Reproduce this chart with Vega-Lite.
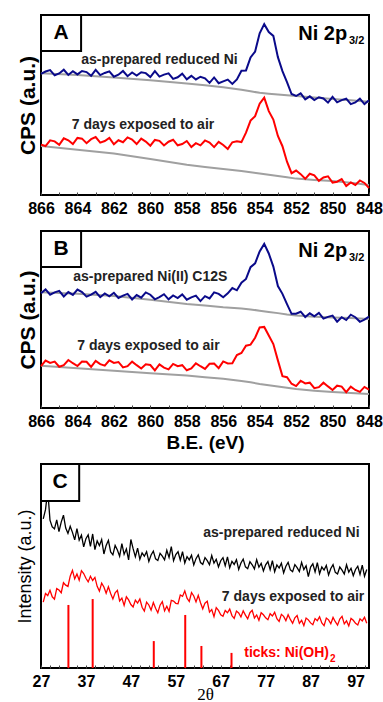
{
"$schema": "https://vega.github.io/schema/vega-lite/v6.json",
"padding": {"left": 15, "top": 13, "right": 10, "bottom": 2},
"spacing": 9,
"datasets": {
"xps": [
{"e":848,"a1":52.6,"a2":3.9,"b1":51.6,"b2":10.4},
{"e":848.25,"a1":50.5,"a2":6.7,"b1":49.9,"b2":11.9},
{"e":848.5,"a1":53.5,"a2":8.1,"b1":48.7,"b2":9.1},
{"e":848.75,"a1":51.4,"a2":5.6,"b1":51.3,"b2":10.2},
{"e":849,"a1":50.5,"a2":7.0,"b1":52.7,"b2":12.1},
{"e":849.25,"a1":53.5,"a2":5.0,"b1":49.7,"b2":9.0},
{"e":849.5,"a1":52.7,"a2":8.8,"b1":51.3,"b2":12.1},
{"e":849.75,"a1":51.5,"a2":7.4,"b1":48.8,"b2":12.6},
{"e":850,"a1":54.5,"a2":6.9,"b1":52.2,"b2":10.2},
{"e":850.25,"a1":51.3,"a2":10.4,"b1":51.5,"b2":12.2},
{"e":850.5,"a1":53.6,"a2":9.7,"b1":50.5,"b2":14.3},
{"e":850.75,"a1":54.3,"a2":7.9,"b1":53.7,"b2":11.8},
{"e":851,"a1":52.7,"a2":10.9,"b1":51.8,"b2":11.2},
{"e":851.25,"a1":54.8,"a2":11.8,"b1":53.5,"b2":14.3},
{"e":851.5,"a1":53.1,"a2":9.0,"b1":51.4,"b2":13.9},
{"e":851.75,"a1":56.5,"a2":11.6,"b1":54.4,"b2":15.4},
{"e":852,"a1":55.0,"a2":13.6,"b1":53.3,"b2":12.4},
{"e":852.25,"a1":56.1,"a2":12.1,"b1":53.2,"b2":13.7},
{"e":852.5,"a1":62.7,"a2":18.5,"b1":58.7,"b2":17.4},
{"e":852.75,"a1":68.8,"a2":27.1,"b1":64.5,"b2":18.0},
{"e":853,"a1":76.6,"a2":32.8,"b1":68.9,"b2":26.9},
{"e":853.25,"a1":88.4,"a2":41.9,"b1":79.9,"b2":36.1},
{"e":853.5,"a1":90.5,"a2":46.6,"b1":87.3,"b2":41.0},
{"e":853.75,"a1":94.9,"a2":54.1,"b1":92.7,"b2":45.8},
{"e":854,"a1":89.8,"a2":50.7,"b1":88.5,"b2":45.5},
{"e":854.25,"a1":79.7,"a2":43.8,"b1":81.7,"b2":39.7},
{"e":854.5,"a1":76.4,"a2":41.3,"b1":79.6,"b2":35.8},
{"e":854.75,"a1":69.2,"a2":34.6,"b1":72.9,"b2":35.2},
{"e":855,"a1":69.0,"a2":29.4,"b1":70.8,"b2":31.1},
{"e":855.25,"a1":64.2,"a2":29.9,"b1":66.5,"b2":29.9},
{"e":855.5,"a1":61.7,"a2":29.3,"b1":67.8,"b2":25.3},
{"e":855.75,"a1":64.1,"a2":25.6,"b1":64.8,"b2":25.2},
{"e":856,"a1":63.1,"a2":27.8,"b1":62.6,"b2":26.3},
{"e":856.25,"a1":62.1,"a2":29.5,"b1":64.5,"b2":22.5},
{"e":856.5,"a1":65.3,"a2":26.6,"b1":65.3,"b2":25.1},
{"e":856.75,"a1":62.3,"a2":29.1,"b1":61.9,"b2":25.0},
{"e":857,"a1":64.8,"a2":30.3,"b1":63.2,"b2":22.1},
{"e":857.25,"a1":65.7,"a2":27.6,"b1":60.4,"b2":23.6},
{"e":857.5,"a1":64.2,"a2":28.8,"b1":63.5,"b2":25.2},
{"e":857.75,"a1":66.2,"a2":26.6,"b1":62.5,"b2":22.3},
{"e":858,"a1":64.3,"a2":30.0,"b1":61.2,"b2":21.3},
{"e":858.25,"a1":67.4,"a2":28.3,"b1":64.2,"b2":24.2},
{"e":858.5,"a1":65.4,"a2":27.6,"b1":62.1,"b2":23.6},
{"e":858.75,"a1":64.5,"a2":30.7,"b1":63.6,"b2":24.9},
{"e":859,"a1":67.6,"a2":29.6,"b1":61.4,"b2":21.8},
{"e":859.25,"a1":66.9,"a2":27.5,"b1":64.3,"b2":22.8},
{"e":859.5,"a1":65.8,"a2":30.1,"b1":62.6,"b2":24.6},
{"e":859.75,"a1":68.8,"a2":30.6,"b1":61.4,"b2":21.3},
{"e":860,"a1":65.5,"a2":27.4,"b1":64.0,"b2":24.3},
{"e":860.25,"a1":67.7,"a2":29.7,"b1":65.3,"b2":24.7},
{"e":860.5,"a1":68.2,"a2":31.3,"b1":62.3,"b2":22.3},
{"e":860.75,"a1":66.4,"a2":28.3,"b1":63.8,"b2":24.2},
{"e":861,"a1":68.1,"a2":30.8,"b1":61.3,"b2":26.2},
{"e":861.25,"a1":66.0,"a2":32.0,"b1":64.5,"b2":23.6},
{"e":861.5,"a1":68.9,"a2":29.3,"b1":63.5,"b2":22.9},
{"e":861.75,"a1":66.8,"a2":30.4,"b1":62.2,"b2":26.0},
{"e":862,"a1":65.7,"a2":28.2,"b1":65.1,"b2":25.5},
{"e":862.25,"a1":68.7,"a2":31.7,"b1":63.1,"b2":26.9},
{"e":862.5,"a1":67.8,"a2":30.0,"b1":64.7,"b2":23.9},
{"e":862.75,"a1":66.6,"a2":29.1,"b1":62.6,"b2":24.8},
{"e":863,"a1":69.5,"a2":32.2,"b1":65.6,"b2":26.6},
{"e":863.25,"a1":66.2,"a2":31.0,"b1":64.0,"b2":23.2},
{"e":863.5,"a1":68.3,"a2":28.8,"b1":62.9,"b2":26.1},
{"e":863.75,"a1":68.9,"a2":31.3,"b1":65.5,"b2":26.3},
{"e":864,"a1":67.0,"a2":31.7,"b1":66.9,"b2":23.7},
{"e":864.25,"a1":68.8,"a2":28.3,"b1":63.9,"b2":25.3},
{"e":864.5,"a1":66.7,"a2":30.4,"b1":65.5,"b2":27.1},
{"e":864.75,"a1":69.6,"a2":31.5,"b1":63.0,"b2":24.2},
{"e":865,"a1":67.5,"a2":27.9,"b1":66.2,"b2":23.3},
{"e":865.25,"a1":66.5,"a2":29.8,"b1":65.3,"b2":26.2},
{"e":865.5,"a1":69.4,"a2":30.4,"b1":64.0,"b2":25.5},
{"e":865.75,"a1":68.6,"a2":27.2,"b1":67.0,"b2":26.8},
{"e":866,"a1":67.3,"a2":28.0,"b1":64.8,"b2":23.7}
],
"bg": [
{"e":848,"ga1":51.8,"ga2":5.6,"gb1":50.3,"gb2":7.9},
{"e":849,"ga1":52.6,"ga2":6.8,"gb1":50.8,"gb2":8.5},
{"e":850,"ga1":53.3,"ga2":7.8,"gb1":51.2,"gb2":9.1},
{"e":851,"ga1":54.2,"ga2":8.4,"gb1":51.6,"gb2":9.8},
{"e":852,"ga1":55.0,"ga2":9.1,"gb1":52.2,"gb2":10.7},
{"e":852.5,"ga1":55.4,"ga2":9.8,"gb1":52.8,"gb2":11.4},
{"e":853,"ga1":55.8,"ga2":10.5,"gb1":53.6,"gb2":12.2},
{"e":853.5,"ga1":56.3,"ga2":11.2,"gb1":54.3,"gb2":12.9},
{"e":854,"ga1":56.8,"ga2":11.9,"gb1":55.0,"gb2":13.6},
{"e":854.5,"ga1":57.6,"ga2":12.6,"gb1":55.7,"gb2":14.5},
{"e":855,"ga1":58.5,"ga2":13.3,"gb1":56.2,"gb2":15.3},
{"e":856,"ga1":59.8,"ga2":14.5,"gb1":56.9,"gb2":16.5},
{"e":857,"ga1":61.0,"ga2":15.6,"gb1":57.9,"gb2":17.4},
{"e":858,"ga1":62.0,"ga2":16.8,"gb1":58.8,"gb2":18.3},
{"e":860,"ga1":63.8,"ga2":20.0,"gb1":61.2,"gb2":19.7},
{"e":862,"ga1":65.3,"ga2":23.0,"gb1":63.3,"gb2":21.1},
{"e":864,"ga1":66.6,"ga2":25.2,"gb1":64.6,"gb2":22.5},
{"e":866,"ga1":67.6,"ga2":27.2,"gb1":65.4,"gb2":23.9}
],
"xrd": [
{"t":27.5,"k":73.1,"r":32.3},{"t":28,"k":77.6,"r":36.5},{"t":28.5,"k":87.0,"r":35.5},{"t":29,"k":72.5,"r":38.1},
{"t":29.5,"k":69.2,"r":34.9},{"t":30,"k":68.2,"r":33.7},{"t":30.5,"k":72.6,"r":38.9},{"t":31,"k":66.9,"r":38.2},
{"t":31.5,"k":71.5,"r":36.9},{"t":32,"k":74.9,"r":41.8},{"t":32.5,"k":68.6,"r":40.6},{"t":33,"k":66.0,"r":40.0},
{"t":33.5,"k":69.5,"r":45.0},{"t":34,"k":66.5,"r":47.9},{"t":34.5,"k":62.8,"r":43.7},{"t":35,"k":68.3,"r":46.1},
{"t":35.5,"k":62.7,"r":43.0},{"t":36,"k":65.1,"r":47.7},{"t":36.5,"k":59.4,"r":46.3},{"t":37,"k":63.4,"r":44.0},
{"t":37.5,"k":65.3,"r":42.2},{"t":38,"k":59.6,"r":45.0},{"t":38.5,"k":65.7,"r":42.9},{"t":39,"k":58.0,"r":44.4},
{"t":39.5,"k":62.3,"r":40.0},{"t":40,"k":60.0,"r":37.7},{"t":40.5,"k":63.0,"r":41.6},{"t":41,"k":55.9,"r":39.7},
{"t":41.5,"k":60.1,"r":36.6},{"t":42,"k":62.6,"r":39.8},{"t":42.5,"k":56.9,"r":36.5},{"t":43,"k":55.5,"r":33.8},
{"t":43.5,"k":60.1,"r":36.9},{"t":44,"k":57.8,"r":38.1},{"t":44.5,"k":54.8,"r":32.9},{"t":45,"k":61.0,"r":34.3},
{"t":45.5,"k":55.7,"r":30.7},{"t":46,"k":58.4,"r":34.9},{"t":46.5,"k":53.0,"r":33.4},{"t":47,"k":63.0,"r":31.1},
{"t":47.5,"k":58.5,"r":29.9},{"t":48,"k":54.5,"r":33.3},{"t":48.5,"k":58.8,"r":31.8},{"t":49,"k":53.3,"r":33.8},
{"t":49.5,"k":56.4,"r":29.8},{"t":50,"k":54.8,"r":27.9},{"t":50.5,"k":57.0,"r":32.3},{"t":51,"k":52.2,"r":30.9},
{"t":51.5,"k":55.4,"r":28.4},{"t":52,"k":57.3,"r":32.1},{"t":52.5,"k":53.5,"r":29.3},{"t":53,"k":52.7,"r":27.1},
{"t":53.5,"k":56.2,"r":30.8},{"t":54,"k":54.8,"r":32.5},{"t":54.5,"k":53.0,"r":28.0},{"t":55,"k":57.7,"r":30.3},
{"t":55.5,"k":54.2,"r":27.8},{"t":56,"k":59.5,"r":33.2},{"t":56.5,"k":52.6,"r":32.8},{"t":57,"k":55.6,"r":31.7},
{"t":57.5,"k":57.0,"r":31.5},{"t":58,"k":52.8,"r":35.8},{"t":58.5,"k":57.0,"r":35.1},{"t":59,"k":51.5,"r":37.8},
{"t":59.5,"k":54.6,"r":34.2},{"t":60,"k":53.0,"r":32.6},{"t":60.5,"k":55.3,"r":37.0},{"t":61,"k":50.5,"r":35.3},
{"t":61.5,"k":53.6,"r":32.4},{"t":62,"k":55.5,"r":35.6},{"t":62.5,"k":51.7,"r":32.0},{"t":63,"k":50.8,"r":29.0},
{"t":63.5,"k":54.1,"r":31.8},{"t":64,"k":52.6,"r":32.7},{"t":64.5,"k":50.6,"r":27.4},{"t":65,"k":55.1,"r":28.7},
{"t":65.5,"k":51.4,"r":25.2},{"t":66,"k":53.3,"r":29.6},{"t":66.5,"k":49.6,"r":28.2},{"t":67,"k":52.6,"r":26.1},
{"t":67.5,"k":54.1,"r":25.4},{"t":68,"k":50.1,"r":28.2},{"t":68.5,"k":54.5,"r":27.1},{"t":69,"k":49.1,"r":28.9},
{"t":69.5,"k":52.3,"r":25.7},{"t":70,"k":50.8,"r":24.3},{"t":70.5,"k":53.1,"r":27.9},{"t":71,"k":48.3,"r":27.0},
{"t":71.5,"k":51.5,"r":25.0},{"t":72,"k":53.4,"r":28.0},{"t":72.5,"k":49.6,"r":25.9},{"t":73,"k":48.7,"r":24.1},
{"t":73.5,"k":52.1,"r":27.1},{"t":74,"k":50.6,"r":28.3},{"t":74.5,"k":48.6,"r":24.5},{"t":75,"k":53.1,"r":26.0},
{"t":75.5,"k":49.4,"r":23.4},{"t":76,"k":51.3,"r":27.1},{"t":76.5,"k":47.6,"r":26.1},{"t":77,"k":50.6,"r":24.6},
{"t":77.5,"k":52.2,"r":23.7},{"t":78,"k":48.2,"r":26.6},{"t":78.5,"k":52.6,"r":25.5},{"t":79,"k":47.2,"r":27.3},
{"t":79.5,"k":50.5,"r":24.2},{"t":80,"k":49.0,"r":22.8},{"t":80.5,"k":51.4,"r":26.3},{"t":81,"k":46.6,"r":25.3},
{"t":81.5,"k":49.9,"r":23.2},{"t":82,"k":51.8,"r":26.1},{"t":82.5,"k":48.1,"r":23.8},{"t":83,"k":47.2,"r":21.9},
{"t":83.5,"k":50.7,"r":24.6},{"t":84,"k":49.2,"r":25.7},{"t":84.5,"k":47.3,"r":21.9},{"t":85,"k":51.8,"r":23.4},
{"t":85.5,"k":48.2,"r":20.8},{"t":86,"k":50.1,"r":24.5},{"t":86.5,"k":44.8,"r":23.6},{"t":87,"k":49.5,"r":22.1},
{"t":87.5,"k":51.1,"r":21.2},{"t":88,"k":47.1,"r":24.2},{"t":88.5,"k":51.6,"r":23.2},{"t":89,"k":46.2,"r":25.1},
{"t":89.5,"k":49.5,"r":22.1},{"t":90,"k":48.0,"r":20.8},{"t":90.5,"k":50.3,"r":24.5},{"t":91,"k":45.6,"r":23.6},
{"t":91.5,"k":48.8,"r":21.7},{"t":92,"k":50.7,"r":24.8},{"t":92.5,"k":46.9,"r":22.7},{"t":93,"k":46.1,"r":21.0},
{"t":93.5,"k":49.5,"r":24.0},{"t":94,"k":48.0,"r":25.3},{"t":94.5,"k":46.1,"r":21.6},{"t":95,"k":50.6,"r":23.1},
{"t":95.5,"k":47.0,"r":20.6},{"t":96,"k":48.9,"r":24.3},{"t":96.5,"k":45.3,"r":23.4},{"t":97,"k":48.3,"r":21.9},
{"t":97.5,"k":49.9,"r":21.1},{"t":98,"k":45.9,"r":24.1},{"t":98.5,"k":50.4,"r":23.1},{"t":99,"k":45.0,"r":24.9},
{"t":99.5,"k":48.3,"r":21.9}
],
"ticks": [
{"t":33.1,"h":30.9,"b":0},{"t":38.5,"h":33.8,"b":0},{"t":52.1,"h":13.2,"b":0},{"t":59.1,"h":26.0,"b":0},{"t":62.7,"h":10.8,"b":0},{"t":69.4,"h":7.4,"b":0}
]
},
"vconcat": [
{
"spacing": 12,
"vconcat": [
{
"width": 328, "height": 180,
"layer": [
{"data": {"name": "bg"}, "mark": {"type": "line", "color": "#a0a0a0", "strokeWidth": 2},
 "encoding": {
  "x": {"field": "e", "type": "quantitative", "scale": {"domain": [848, 866], "reverse": true, "nice": false, "zero": false},
        "axis": {"values": [848,848.5,849,849.5,850,850.5,851,851.5,852,852.5,853,853.5,854,854.5,855,855.5,856,856.5,857,857.5,858,858.5,859,859.5,860,860.5,861,861.5,862,862.5,863,863.5,864,864.5,865,865.5,866],
                 "tickCount": 40, "format": "d", "labelExpr": "datum.value % 2 === 0 ? datum.label : ''", "labelOverlap": false, "labelFlush": false, "labelPadding": 8}, "title": null},
  "y": {"field": "ga1", "type": "quantitative", "scale": {"domain": [0, 100], "nice": false, "zero": false}, "title": "CPS (a.u.)",
        "axis": {"titleFontSize": 21, "titleFontWeight": "bold", "titlePadding": 3}}}},
{"data": {"name": "bg"}, "mark": {"type": "line", "color": "#a0a0a0", "strokeWidth": 2},
 "encoding": {"x": {"field": "e", "type": "quantitative", "title": null}, "y": {"field": "ga2", "type": "quantitative", "title": "CPS (a.u.)"}}},
{"data": {"name": "xps"}, "mark": {"type": "line", "color": "#0a0a8a", "strokeWidth": 2},
 "encoding": {"x": {"field": "e", "type": "quantitative", "title": null}, "y": {"field": "a1", "type": "quantitative", "title": "CPS (a.u.)"}}},
{"data": {"name": "xps"}, "mark": {"type": "line", "color": "#ff0000", "strokeWidth": 2},
 "encoding": {"x": {"field": "e", "type": "quantitative", "title": null}, "y": {"field": "a2", "type": "quantitative", "title": "CPS (a.u.)"}}},
{"data": {"values": [{"x": 866, "x2": 863.8, "y": 100, "y2": 80}]}, "mark": {"type": "rect", "fill": "white", "stroke": "black", "strokeWidth": 2},
 "encoding": {"x": {"field": "x", "type": "quantitative", "title": null}, "x2": {"field": "x2"}, "y": {"field": "y", "type": "quantitative", "title": "CPS (a.u.)"}, "y2": {"field": "y2"}}},
{"data": {"values": [{"x": 864.9, "y": 90, "s": "A"}]}, "mark": {"type": "text", "font": "Liberation Sans", "fontWeight": "bold", "fontSize": 21, "baseline": "middle", "align": "center"},
 "encoding": {"x": {"field": "x", "type": "quantitative", "title": null}, "y": {"field": "y", "type": "quantitative", "title": "CPS (a.u.)"}, "text": {"field": "s"}}},
{"data": {"values": [{"x": 859.5, "y": 75, "s": "as-prepared reduced Ni"}, {"x": 860.4, "y": 38.9, "s": "7 days exposed to air"}]},
 "mark": {"type": "text", "font": "Liberation Sans", "fontWeight": "bold", "fontSize": 14, "baseline": "middle", "align": "center", "color": "#222222"},
 "encoding": {"x": {"field": "x", "type": "quantitative", "title": null}, "y": {"field": "y", "type": "quantitative", "title": "CPS (a.u.)"}, "text": {"field": "s"}}},
{"data": {"values": [{"x": 849.2, "y": 86.3, "s": "Ni 2p"}]}, "mark": {"type": "text", "font": "Liberation Sans", "fontWeight": "bold", "fontSize": 20, "baseline": "alphabetic", "align": "right"},
 "encoding": {"x": {"field": "x", "type": "quantitative", "title": null}, "y": {"field": "y", "type": "quantitative", "title": "CPS (a.u.)"}, "text": {"field": "s"}}},
{"data": {"values": [{"x": 849.1, "y": 84.1, "s": "3/2"}]}, "mark": {"type": "text", "font": "Liberation Sans", "fontWeight": "bold", "fontSize": 11, "baseline": "alphabetic", "align": "left"},
 "encoding": {"x": {"field": "x", "type": "quantitative", "title": null}, "y": {"field": "y", "type": "quantitative", "title": "CPS (a.u.)"}, "text": {"field": "s"}}}
]
},
{
"width": 328, "height": 177,
"layer": [
{"data": {"name": "bg"}, "mark": {"type": "line", "color": "#a0a0a0", "strokeWidth": 2},
 "encoding": {
  "x": {"field": "e", "type": "quantitative", "scale": {"domain": [848, 866], "reverse": true, "nice": false, "zero": false}, "title": "B.E. (eV)",
        "axis": {"values": [848,848.5,849,849.5,850,850.5,851,851.5,852,852.5,853,853.5,854,854.5,855,855.5,856,856.5,857,857.5,858,858.5,859,859.5,860,860.5,861,861.5,862,862.5,863,863.5,864,864.5,865,865.5,866],
                 "tickCount": 40, "format": "d", "labelExpr": "datum.value % 2 === 0 ? datum.label : ''", "labelOverlap": false, "labelFlush": false, "labelPadding": 8, "titleFontSize": 19, "titleFontWeight": "bold", "titlePadding": 4}},
  "y": {"field": "gb1", "type": "quantitative", "scale": {"domain": [0, 100], "nice": false, "zero": false}, "title": "CPS (a.u.)",
        "axis": {"titleFontSize": 21, "titleFontWeight": "bold", "titlePadding": 3}}}},
{"data": {"name": "bg"}, "mark": {"type": "line", "color": "#a0a0a0", "strokeWidth": 2},
 "encoding": {"x": {"field": "e", "type": "quantitative", "title": "B.E. (eV)"}, "y": {"field": "gb2", "type": "quantitative", "title": "CPS (a.u.)"}}},
{"data": {"name": "xps"}, "mark": {"type": "line", "color": "#0a0a8a", "strokeWidth": 2},
 "encoding": {"x": {"field": "e", "type": "quantitative", "title": "B.E. (eV)"}, "y": {"field": "b1", "type": "quantitative", "title": "CPS (a.u.)"}}},
{"data": {"name": "xps"}, "mark": {"type": "line", "color": "#ff0000", "strokeWidth": 2},
 "encoding": {"x": {"field": "e", "type": "quantitative", "title": "B.E. (eV)"}, "y": {"field": "b2", "type": "quantitative", "title": "CPS (a.u.)"}}},
{"data": {"values": [{"x": 866, "x2": 863.8, "y": 100, "y2": 79.7}]}, "mark": {"type": "rect", "fill": "white", "stroke": "black", "strokeWidth": 2},
 "encoding": {"x": {"field": "x", "type": "quantitative", "title": "B.E. (eV)"}, "x2": {"field": "x2"}, "y": {"field": "y", "type": "quantitative", "title": "CPS (a.u.)"}, "y2": {"field": "y2"}}},
{"data": {"values": [{"x": 864.9, "y": 90, "s": "B"}]}, "mark": {"type": "text", "font": "Liberation Sans", "fontWeight": "bold", "fontSize": 21, "baseline": "middle", "align": "center"},
 "encoding": {"x": {"field": "x", "type": "quantitative", "title": "B.E. (eV)"}, "y": {"field": "y", "type": "quantitative", "title": "CPS (a.u.)"}, "text": {"field": "s"}}},
{"data": {"values": [{"x": 860.0, "y": 74, "s": "as-prepared Ni(II) C12S"}, {"x": 860.1, "y": 35, "s": "7 days exposed to air"}]},
 "mark": {"type": "text", "font": "Liberation Sans", "fontWeight": "bold", "fontSize": 14, "baseline": "middle", "align": "center", "color": "#222222"},
 "encoding": {"x": {"field": "x", "type": "quantitative", "title": "B.E. (eV)"}, "y": {"field": "y", "type": "quantitative", "title": "CPS (a.u.)"}, "text": {"field": "s"}}},
{"data": {"values": [{"x": 849.2, "y": 85.1, "s": "Ni 2p"}]}, "mark": {"type": "text", "font": "Liberation Sans", "fontWeight": "bold", "fontSize": 20, "baseline": "alphabetic", "align": "right"},
 "encoding": {"x": {"field": "x", "type": "quantitative", "title": "B.E. (eV)"}, "y": {"field": "y", "type": "quantitative", "title": "CPS (a.u.)"}, "text": {"field": "s"}}},
{"data": {"values": [{"x": 849.1, "y": 82.9, "s": "3/2"}]}, "mark": {"type": "text", "font": "Liberation Sans", "fontWeight": "bold", "fontSize": 11, "baseline": "alphabetic", "align": "left"},
 "encoding": {"x": {"field": "x", "type": "quantitative", "title": "B.E. (eV)"}, "y": {"field": "y", "type": "quantitative", "title": "CPS (a.u.)"}, "text": {"field": "s"}}}
]
}
]
},
{
"width": 328, "height": 204,
"layer": [
{"data": {"name": "xrd"}, "mark": {"type": "line", "color": "#000000", "strokeWidth": 1.3},
 "encoding": {
  "x": {"field": "t", "type": "quantitative", "scale": {"domain": [27, 100], "nice": false, "zero": false}, "title": "2θ",
        "axis": {"values": [27,29,31,33,35,37,39,41,43,45,47,49,51,53,55,57,59,61,63,65,67,69,71,73,75,77,79,81,83,85,87,89,91,93,95,97,99],
                 "tickCount": 40, "format": "d", "labelExpr": "(datum.value - 27) % 10 === 0 ? datum.label : ''", "labelOverlap": false, "labelFlush": false, "labelPadding": 8, "titleFont": "Liberation Serif", "titleFontWeight": "normal", "titleFontSize": 17, "titlePadding": -3}},
  "y": {"field": "k", "type": "quantitative", "scale": {"domain": [0, 100], "nice": false, "zero": false}, "title": "Intensity (a.u.)",
        "axis": {"titleFontSize": 18, "titleFontWeight": "normal", "titlePadding": 7}}}},
{"data": {"name": "xrd"}, "mark": {"type": "line", "color": "#ff0000", "strokeWidth": 1.3},
 "encoding": {"x": {"field": "t", "type": "quantitative", "title": "2θ"}, "y": {"field": "r", "type": "quantitative", "title": "Intensity (a.u.)"}}},
{"data": {"name": "ticks"}, "mark": {"type": "rule", "color": "#ff0000", "strokeWidth": 2},
 "encoding": {"x": {"field": "t", "type": "quantitative", "title": "2θ"}, "y": {"field": "h", "type": "quantitative", "title": "Intensity (a.u.)"}, "y2": {"field": "b"}}},
{"data": {"values": [{"x": 27, "x2": 35.5, "y": 100, "y2": 81.9}]}, "mark": {"type": "rect", "fill": "white", "stroke": "black", "strokeWidth": 2},
 "encoding": {"x": {"field": "x", "type": "quantitative", "title": "2θ"}, "x2": {"field": "x2"}, "y": {"field": "y", "type": "quantitative", "title": "Intensity (a.u.)"}, "y2": {"field": "y2"}}},
{"data": {"values": [{"x": 31.25, "y": 91, "s": "C"}]}, "mark": {"type": "text", "font": "Liberation Sans", "fontWeight": "bold", "fontSize": 21, "baseline": "middle", "align": "center"},
 "encoding": {"x": {"field": "x", "type": "quantitative", "title": "2θ"}, "y": {"field": "y", "type": "quantitative", "title": "Intensity (a.u.)"}, "text": {"field": "s"}}},
{"data": {"values": [{"x": 80.5, "y": 66.2, "s": "as-prepared reduced Ni"}, {"x": 83.1, "y": 34.8, "s": "7 days exposed to air"}]},
 "mark": {"type": "text", "font": "Liberation Sans", "fontWeight": "bold", "fontSize": 14, "baseline": "middle", "align": "center", "color": "#222222"},
 "encoding": {"x": {"field": "x", "type": "quantitative", "title": "2θ"}, "y": {"field": "y", "type": "quantitative", "title": "Intensity (a.u.)"}, "text": {"field": "s"}}},
{"data": {"values": [{"x": 91.1, "y": 5.5, "s": "ticks: Ni(OH)"}]}, "mark": {"type": "text", "font": "Liberation Sans", "fontWeight": "bold", "fontSize": 14, "baseline": "alphabetic", "align": "right", "color": "#ff0000"},
 "encoding": {"x": {"field": "x", "type": "quantitative", "title": "2θ"}, "y": {"field": "y", "type": "quantitative", "title": "Intensity (a.u.)"}, "text": {"field": "s"}}},
{"data": {"values": [{"x": 91.3, "y": 3.0, "s": "2"}]}, "mark": {"type": "text", "font": "Liberation Sans", "fontWeight": "bold", "fontSize": 10, "baseline": "alphabetic", "align": "left", "color": "#ff0000"},
 "encoding": {"x": {"field": "x", "type": "quantitative", "title": "2θ"}, "y": {"field": "y", "type": "quantitative", "title": "Intensity (a.u.)"}, "text": {"field": "s"}}}
]
}
],
"config": {
 "view": {"stroke": "black", "strokeWidth": 2},
 "font": "Liberation Sans",
 "axis": {"labelOverlap": false},
 "axisX": {"grid": false, "domain": false, "tickSize": -3, "tickColor": "#444444", "labelOverlap": false, "labelFont": "Liberation Sans", "labelFontSize": 16, "labelFontWeight": "bold", "labelColor": "#000000", "titleColor": "#000000", "titleFont": "Liberation Sans"},
 "axisY": {"grid": false, "domain": false, "ticks": false, "labels": false, "titleColor": "#000000", "titleFont": "Liberation Sans"}
}
}
